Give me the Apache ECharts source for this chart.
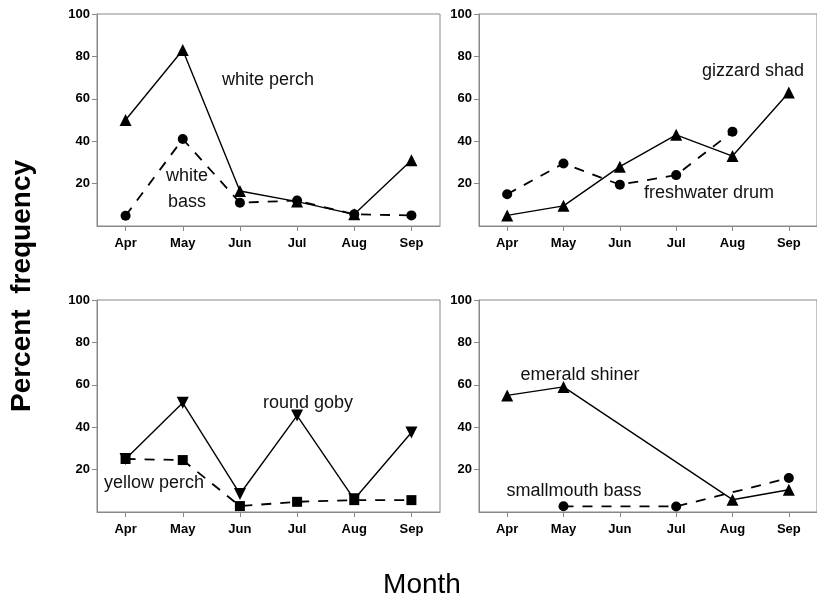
<!DOCTYPE html>
<html>
<head>
<meta charset="utf-8">
<script src="https://cdn.jsdelivr.net/npm/echarts@6/dist/echarts.min.js"></script>
<style>
html,body{margin:0;padding:0;background:#fff;}
#chart{width:817px;height:601px;}
</style>
</head>
<body>
<div id="chart"></div>
<script>
const months = ['Apr','May','Jun','Jul','Aug','Sep'];
const yTicks = [20, 40, 60, 80, 100];

// Panel 1
const whitePerch = [50, 83, 16.5, 11.5, 5.5, 31];
const whiteBass = [4.8, 41, 11, 12, 5.5, 5];
// Panel 2
const gizzardShad = [5, 9.5, 28, 43, 33, 63];
const freshwaterDrum = [15, 29.5, 19.5, 24, 44.5, null];
// Panel 3
const roundGoby = [25, 51.5, 8.5, 45.5, 6, 37.5];
const yellowPerch = [25, 24.5, 2.8, 4.8, 5.6, 5.6];
// Panel 4
const emeraldShiner = [55, 59, null, null, 5.8, 10.5];
const smallmouthBass = [null, 2.7, null, 2.6, null, 16];

const gray = '#888888';
const lblFont = {color:'#000', fontFamily:'Liberation Sans, Arial, sans-serif', fontWeight:'bold', fontSize:13};

const grids = [
  {left:97, top:14, width:343, height:212},
  {left:479, top:14, width:342, height:212},
  {left:97, top:300, width:343, height:212},
  {left:479, top:300, width:342, height:212}
];

const chart = echarts.init(document.getElementById('chart'), null, {renderer:'canvas'});

function lineSeries(idx, data, symbol, dashed, rotate){
  return {
    type:'line', xAxisIndex:idx, yAxisIndex:idx, data:data,
    connectNulls:true, symbol:symbol, symbolRotate: rotate || 0,
    symbolSize: symbol==='triangle' ? 12 : 10,
    itemStyle:{color:'#000'},
    lineStyle:{color:'#000', width: dashed ? 1.8 : 1.4, type: dashed ? [10,9] : 'solid'},
    emphasis:{disabled:true}, animation:false, z: dashed ? 3 : 2
  };
}

function txt(text, x, y){
  return {type:'text', style:{text:text, x:x, y:y, textAlign:'center', textVerticalAlign:'middle',
    font:'18px "Liberation Sans", Arial, sans-serif', fill:'#111'}};
}

const option = {
  backgroundColor:'#fff',
  animation:false,
  grid: grids.map(g => Object.assign({show:true, borderColor:gray, borderWidth:1, backgroundColor:'transparent'}, g)),
  xAxis: grids.map((g,i) => ({
    type:'category', gridIndex:i, data:months, boundaryGap:true,
    axisLine:{show:true, lineStyle:{color:gray, width:1}},
    axisTick:{show:true, alignWithLabel:true, length:5, lineStyle:{color:gray}},
    axisLabel:Object.assign({margin:11, interval:0}, lblFont),
    splitLine:{show:false}
  })),
  yAxis: grids.map((g,i) => ({
    type:'value', gridIndex:i, min:0, max:100,
    axisLine:{show:true, lineStyle:{color:gray, width:1}},
    axisTick:{show:true, length:5, lineStyle:{color:gray}, customValues:yTicks},
    axisLabel:Object.assign({margin:7, customValues:yTicks}, lblFont),
    splitLine:{show:false}
  })),
  series: [
    lineSeries(0, whitePerch, 'triangle', false),
    lineSeries(0, whiteBass, 'circle', true),
    lineSeries(1, gizzardShad, 'triangle', false),
    lineSeries(1, freshwaterDrum, 'circle', true),
    lineSeries(2, roundGoby, 'triangle', false, 180),
    lineSeries(2, yellowPerch, 'rect', true),
    lineSeries(3, emeraldShiner, 'triangle', false),
    lineSeries(3, smallmouthBass, 'circle', true)
  ],
  graphic: [
    txt('white perch', 268, 80),
    txt('white', 187, 176),
    txt('bass', 187, 202),
    txt('gizzard shad', 753, 71),
    txt('freshwater drum', 709, 193),
    txt('round goby', 308, 403),
    txt('yellow perch', 154, 483),
    txt('emerald shiner', 580, 375),
    txt('smallmouth bass', 574, 491),
    {type:'text', rotation:Math.PI/2, x:22, y:286,
     style:{text:'Percent  frequency', x:0, y:0, textAlign:'center', textVerticalAlign:'middle',
       font:'bold 28px "Liberation Sans", Arial, sans-serif', fill:'#000'}},
    {type:'text', style:{text:'Month', x:422, y:585, textAlign:'center', textVerticalAlign:'middle',
       font:'28px "Liberation Sans", Arial, sans-serif', fill:'#000'}}
  ]
};
chart.setOption(option);
</script>
</body>
</html>
